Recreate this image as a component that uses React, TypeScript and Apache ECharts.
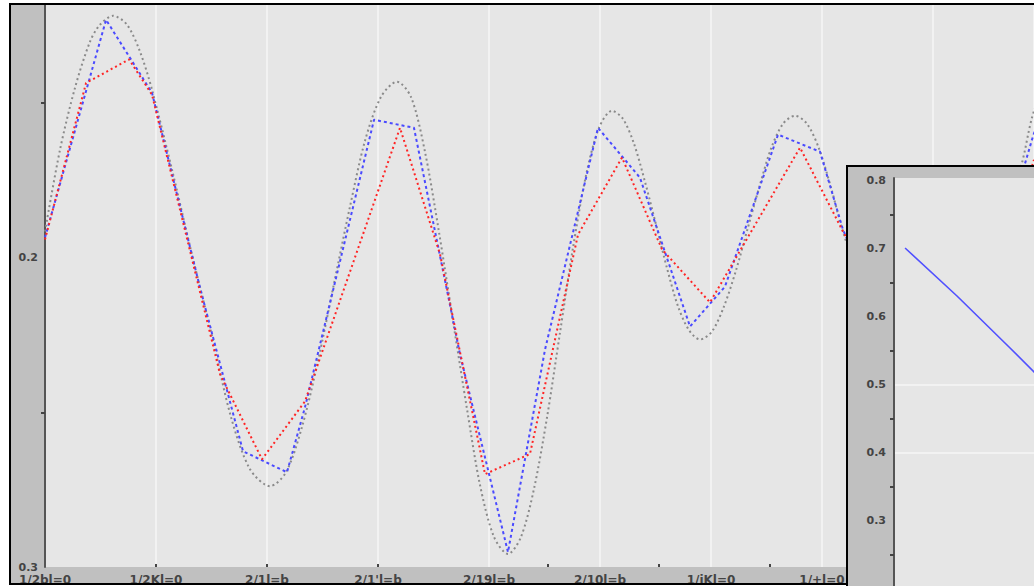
import React, { useEffect, useRef } from 'react';
import * as echarts from 'echarts';

// ---------- data (axis units) ----------
const xLabels = ['1/2bl=0', '1/2Kl=0', '2/1l=b', '2/1\'l=b', '2/19l=b', '2/10l=b', '1/iKl=0', '1/+l=0', '1/+l=0'];
const xLabelValues = [0, 1, 2, 3, 4, 5, 6, 7, 8];
const xTickValues = [1, 2, 3, 4.53, 5.53, 6.53, 7.53, 8.53];

const grayCurve: number[][] = [
  [0, 0.1916], [0.135, 0.1652], [0.27, 0.1452], [0.405, 0.1303], [0.495, 0.1248], [0.613, 0.1219],
  [0.739, 0.1248], [0.856, 0.1335], [0.964, 0.1458], [1.144, 0.1716], [1.315, 0.1977], [1.495, 0.2239],
  [1.676, 0.2516], [1.847, 0.2684], [2.027, 0.2739], [2.171, 0.2694], [2.315, 0.2548], [2.459, 0.2335],
  [2.604, 0.2084], [2.748, 0.1835], [2.883, 0.1623], [3.027, 0.1481], [3.171, 0.1432], [3.297, 0.1481],
  [3.423, 0.1658], [3.55, 0.1919], [3.676, 0.2206], [3.802, 0.249], [3.919, 0.2735], [4.045, 0.2903],
  [4.171, 0.2958], [4.288, 0.2903], [4.405, 0.2748], [4.523, 0.2516], [4.64, 0.2242], [4.757, 0.1968],
  [4.874, 0.1735], [4.991, 0.1581], [5.108, 0.1526], [5.207, 0.1552], [5.306, 0.1632], [5.405, 0.1755],
  [5.505, 0.1894], [5.604, 0.2035], [5.703, 0.2158], [5.802, 0.2235], [5.901, 0.2265], [6.009, 0.2239],
  [6.117, 0.2158], [6.225, 0.2042], [6.333, 0.1903], [6.441, 0.1765], [6.541, 0.1648], [6.649, 0.1568],
  [6.757, 0.1542], [6.865, 0.1568], [6.973, 0.1648], [7.081, 0.1774], [7.189, 0.1916], [7.432, 0.2168],
  [7.703, 0.2313], [8.063, 0.2265], [8.423, 0.2039], [8.694, 0.1813], [8.802, 0.1694], [8.892, 0.1548],
  [9.009, 0.1426],
];

const blueFine: number[][] = [
  [0, 0.1935], [0.55, 0.1232], [0.964, 0.1468], [1.396, 0.2097], [1.784, 0.2626], [2.18, 0.2694],
  [2.342, 0.2484], [2.964, 0.1555], [3.324, 0.1581], [3.739, 0.2313], [4.171, 0.2952], [4.505, 0.2297],
  [4.982, 0.1581], [5.36, 0.1742], [5.811, 0.2223], [6.126, 0.2094], [6.604, 0.1603], [6.982, 0.1658],
  [7.189, 0.191], [7.703, 0.2329], [8.604, 0.1974], [8.892, 0.1619], [9.009, 0.149],
];

const redCoarse: number[][] = [
  [0, 0.1942], [0.37, 0.1436], [0.757, 0.136], [0.964, 0.1474], [1.577, 0.2377], [1.955, 0.2652],
  [2.342, 0.2465], [3.198, 0.1581], [3.559, 0.199], [3.964, 0.27], [4.369, 0.2635], [4.802, 0.1926],
  [5.198, 0.1677], [5.559, 0.1974], [5.991, 0.2145], [6.802, 0.1645], [7.189, 0.1916], [7.703, 0.2232],
  [8.604, 0.2039], [8.91, 0.1684],
];

const insetLine: number[][] = [
  [0.079, 0.7015], [0.45, 0.6309], [0.829, 0.5544], [1.0, 0.5191], [1.186, 0.49],
];

const labelFont = {
  color: '#444',
  fontFamily: 'DejaVu Sans',
  fontWeight: 'bold' as const,
  fontSize: 11,
};

// main chart canvas is shifted up by SHIFT px so that the hidden top tick lies above the page
const SHIFT = 60;

export default function App() {
  const mainRef = useRef<HTMLDivElement>(null);
  const insetRef = useRef<HTMLDivElement>(null);

  useEffect(() => {
    if (!mainRef.current || !insetRef.current) return;
    const main = echarts.init(mainRef.current, undefined, { renderer: 'svg' });
    const inset = echarts.init(insetRef.current, undefined, { renderer: 'svg' });

    main.setOption({
      animation: false,
      grid: {
        left: 45, right: 0, top: 8, bottom: 18,
        show: true, backgroundColor: '#e6e6e6', borderWidth: 0,
      },
      xAxis: [
        {
          type: 'value', min: 0, max: 8.91, interval: 1,
          axisLine: { show: false },
          axisTick: {
            show: true, inside: true, length: 3, customValues: xTickValues,
            lineStyle: { color: '#444', width: 2 },
          },
          axisLabel: {
            customValues: xLabelValues,
            formatter: (v: number) => xLabels[Math.round(v)] ?? '',
            margin: 7, ...labelFont, fontSize: 12, lineHeight: 12,
          },
          splitLine: { show: false },
        },
        {
          type: 'value', min: 0, max: 8.91, interval: 1, position: 'bottom',
          axisLine: { show: false }, axisTick: { show: false }, axisLabel: { show: false },
          splitLine: { show: true, lineStyle: { color: '#f6f6f6', width: 1.5 } },
        },
      ],
      yAxis: {
        type: 'value', inverse: true, min: 0.1, max: 0.3, interval: 0.1,
        axisLine: { show: true, lineStyle: { color: '#555', width: 2 } },
        axisTick: { show: false },
        minorTick: { show: true, splitNumber: 2, length: 4, lineStyle: { color: '#444', width: 2 } },
        axisLabel: {
          formatter: (v: number) => (v < 0.15 ? '' : v.toFixed(1)),
          margin: 7, ...labelFont,
        },
        splitLine: { show: false },
      },
      series: [
        {
          type: 'line', xAxisIndex: 0, data: grayCurve, smooth: 0.3, showSymbol: false, symbol: 'none',
          lineStyle: { color: '#8a8a8a', width: 2, type: [2, 3] }, z: 2,
        },
        {
          type: 'line', xAxisIndex: 0, data: blueFine, showSymbol: false, symbol: 'none',
          lineStyle: { color: '#4a4aff', width: 2, type: [3, 3] }, z: 3,
        },
        {
          type: 'line', xAxisIndex: 0, data: redCoarse, showSymbol: false, symbol: 'none',
          lineStyle: { color: '#ff2424', width: 2, type: [2, 3] }, z: 4,
        },
      ],
    });

    inset.setOption({
      animation: false,
      grid: {
        left: 894, right: 0, top: 178, bottom: 11,
        show: true, backgroundColor: '#e6e6e6', borderWidth: 0,
      },
      xAxis: { type: 'value', min: 0, max: 1, show: false },
      yAxis: {
        type: 'value', min: 0.2, max: 0.8044, interval: 0.1,
        axisLine: { show: true, lineStyle: { color: '#555', width: 2 } },
        axisTick: { show: false },
        minorTick: { show: true, splitNumber: 2, length: 4, lineStyle: { color: '#444', width: 2 } },
        axisLabel: {
          formatter: (v: number) =>
            v < 0.25 || Math.abs(v * 10 - Math.round(v * 10)) > 0.01 ? '' : v.toFixed(1),
          margin: 8, ...labelFont,
        },
        splitLine: {
          show: true,
          lineStyle: {
            color: ['transparent', 'transparent', '#f6f6f6', '#f6f6f6', 'transparent', 'transparent', 'transparent', 'transparent'],
            width: 1.5,
          },
        },
      },
      series: [
        {
          type: 'line', data: insetLine, showSymbol: false, symbol: 'none',
          lineStyle: { color: '#5050ff', width: 1.6 },
        },
      ],
    });

    return () => {
      main.dispose();
      inset.dispose();
    };
  }, []);

  return (
    <div style={{ position: 'fixed', left: 0, top: 0, width: 1034, height: 586, background: '#fff', overflow: 'hidden' }}>
      <div
        style={{
          position: 'absolute', left: 9, top: 3, width: 1100, height: 582, boxSizing: 'border-box',
          border: '2px solid #000', background: '#c0c0c0', overflow: 'hidden',
        }}
      >
        <div
          ref={mainRef}
          style={{ position: 'absolute', left: -11, top: -5 - SHIFT, width: 1034, height: 586 + SHIFT }}
        />
      </div>
      <div
        style={{
          position: 'absolute', left: 846, top: 165, width: 300, height: 500, boxSizing: 'border-box',
          border: '2px solid #000', background: '#c0c0c0', overflow: 'hidden',
        }}
      >
        <div ref={insetRef} style={{ position: 'absolute', left: -848, top: -167, width: 1034, height: 600 }} />
      </div>
    </div>
  );
}
